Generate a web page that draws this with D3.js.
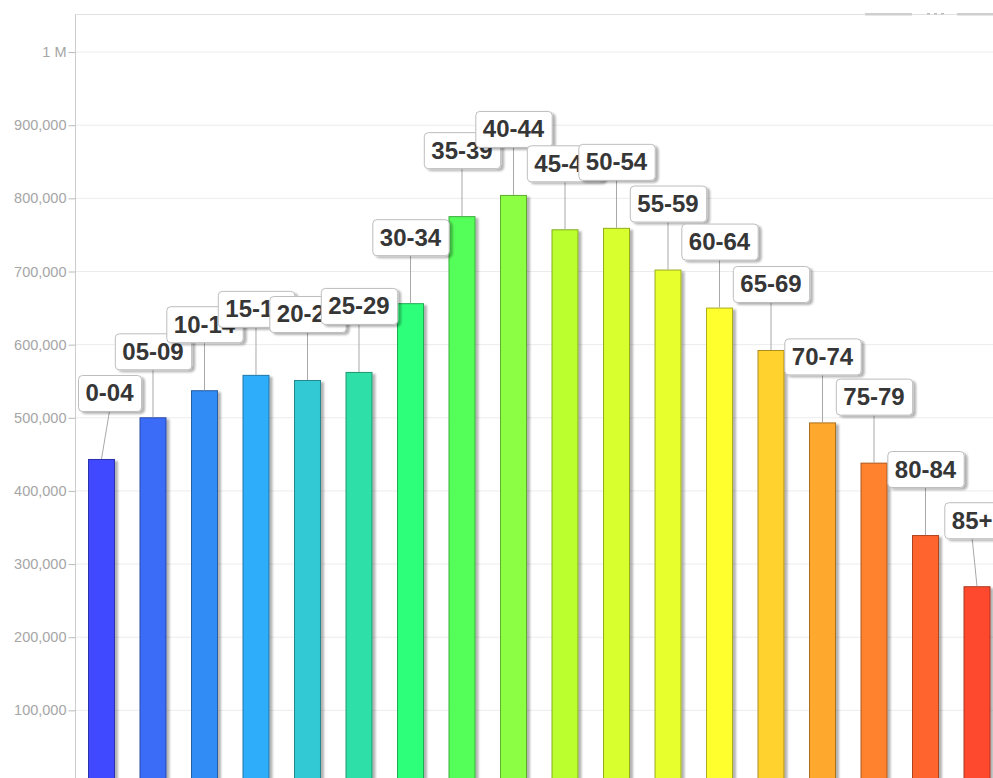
<!DOCTYPE html>
<html>
<head>
<meta charset="utf-8">
<script src="https://cdn.jsdelivr.net/npm/d3@7"></script>
<style>
  html, body { margin: 0; padding: 0; background: #fff; }
  svg { display: block; font-family: Arial, "Liberation Sans", sans-serif; }
</style>
</head>
<body>
<svg id="chart" width="993" height="778"></svg>
<script>
// Population by five-year age group
const ageGroups = ["0-04","05-09","10-14","15-19","20-24","25-29","30-34","35-39","40-44",
                   "45-49","50-54","55-59","60-64","65-69","70-74","75-79","80-84","85+"];
const population = [443000, 500000, 537000, 558000, 551000, 562000, 656000, 775000, 804000,
                    757000, 759000, 702000, 650000, 592000, 493000, 438000, 339000, 269000];
const barColors = ["#4048ff","#3a6cf8","#328cf5","#2eaefa","#30c8d4","#2ee0a8","#2eff7a","#55ff5a",
                   "#8cff44","#bcff2e","#d8ff2e","#e8ff2e","#ffff2e","#ffd22e","#ffa82e","#ff822e",
                   "#ff642e","#ff4a2e"];
const yTicks = [0, 100000, 200000, 300000, 400000, 500000, 600000, 700000, 800000, 900000, 1000000];

const svg = d3.select("#chart");
const W = 993, H = 778;
const plotLeft = 75, plotTop = 15, labelRightLimit = 1000;

const x = d3.scaleBand()
  .domain(ageGroups)
  .range([plotLeft, plotLeft + 928.5])
  .paddingInner(0.476)
  .paddingOuter(0.2524);

const y = d3.scaleLinear()
  .domain([0, 1050000])
  .range([783, plotTop]);

const defs = svg.append("defs");
const shadow = defs.append("filter").attr("id", "shadow")
  .attr("x", "-20%").attr("y", "-20%").attr("width", "150%").attr("height", "150%");
shadow.append("feGaussianBlur").attr("in", "SourceAlpha").attr("stdDeviation", 1.2).attr("result", "b");
shadow.append("feOffset").attr("in", "b").attr("dx", 2.5).attr("dy", 2).attr("result", "o");
shadow.append("feComponentTransfer").attr("in", "o").attr("result", "s")
  .append("feFuncA").attr("type", "linear").attr("slope", 0.3);
const merge = shadow.append("feMerge");
merge.append("feMergeNode").attr("in", "s");
merge.append("feMergeNode").attr("in", "SourceGraphic");

// horizontal gridlines
svg.append("g").selectAll("line")
  .data(yTicks)
  .join("line")
  .attr("x1", plotLeft).attr("x2", W)
  .attr("y1", d => y(d) + 0.5).attr("y2", d => y(d) + 0.5)
  .attr("stroke", "#ececec");

// top frame line and legend pager marks
svg.append("line").attr("x1", plotLeft).attr("x2", W).attr("y1", plotTop - 0.5).attr("y2", plotTop - 0.5)
  .attr("stroke", "#e2e2e2");
svg.append("rect").attr("x", 865).attr("y", 13).attr("width", 47).attr("height", 2.5).attr("fill", "#cfcfcf");
svg.append("rect").attr("x", 957).attr("y", 13).attr("width", 40).attr("height", 2.5).attr("fill", "#cfcfcf");
[927, 934, 941].forEach(cx => svg.append("rect").attr("x", cx).attr("y", 13).attr("width", 3)
  .attr("height", 1.5).attr("fill", "#bbb"));

// y axis
const yAxis = d3.axisLeft(y)
  .tickValues(yTicks)
  .tickSize(7)
  .tickPadding(2)
  .tickFormat(d => d === 1000000 ? "1 M" : d3.format(",")(d));
const ga = svg.append("g").attr("transform", `translate(${plotLeft + 0.5},0.5)`).call(yAxis);
ga.select(".domain").attr("stroke", "#ccc").attr("d", `M0,${plotTop - 1}V${H + 10}`);
ga.selectAll(".tick line").attr("stroke", "#bbb");
ga.selectAll(".tick text").attr("fill", "#a6a6a6").style("font-size", "14.5px")
  .style("font-family", "Arial, 'Liberation Sans', sans-serif");

// bars
svg.append("g").selectAll("rect")
  .data(ageGroups)
  .join("rect")
  .attr("x", d => x(d) + 0.5)
  .attr("y", (d, i) => y(population[i]) + 0.5)
  .attr("width", x.bandwidth() - 1)
  .attr("height", (d, i) => y(0) - y(population[i]))
  .attr("fill", (d, i) => barColors[i])
  .attr("stroke", (d, i) => d3.color(barColors[i]).darker(1.1))
  .attr("stroke-width", 1)
  .attr("filter", "url(#shadow)");

// category callouts: box above each bar, joined to the bar top by a leader line
const labelLayer = svg.append("g");
const boxH = 36, gap = 48, padX = 7.5;
ageGroups.forEach((g, i) => {
  const cx = x(g) + x.bandwidth() / 2;
  const barTop = y(population[i]);
  const grp = labelLayer.append("g");
  const txt = grp.append("text")
    .attr("text-anchor", "middle")
    .attr("font-size", 24)
    .attr("font-weight", "bold")
    .attr("fill", "#363636")
    .text(g);
  const tw = txt.node().getComputedTextLength();
  const bw = tw + padX * 2;
  let bx = cx - bw / 2;
  bx = Math.min(bx, labelRightLimit - bw);
  bx = Math.max(bx, plotLeft + 3);
  const bcx = bx + bw / 2;
  const by = barTop - gap - boxH;
  grp.insert("line", "text")
    .attr("x1", bcx).attr("y1", by + boxH)
    .attr("x2", cx).attr("y2", barTop)
    .attr("stroke", "#a8a8a8").attr("stroke-width", 1);
  grp.insert("rect", "text")
    .attr("x", bx + 0.5).attr("y", by + 0.5)
    .attr("width", bw).attr("height", boxH)
    .attr("rx", 4).attr("ry", 4)
    .attr("fill", "#fff").attr("stroke", "#bdbdbd")
    .attr("filter", "url(#shadow)");
  txt.attr("x", bcx).attr("y", by + boxH / 2 + 8.5);
});
</script>
</body>
</html>
